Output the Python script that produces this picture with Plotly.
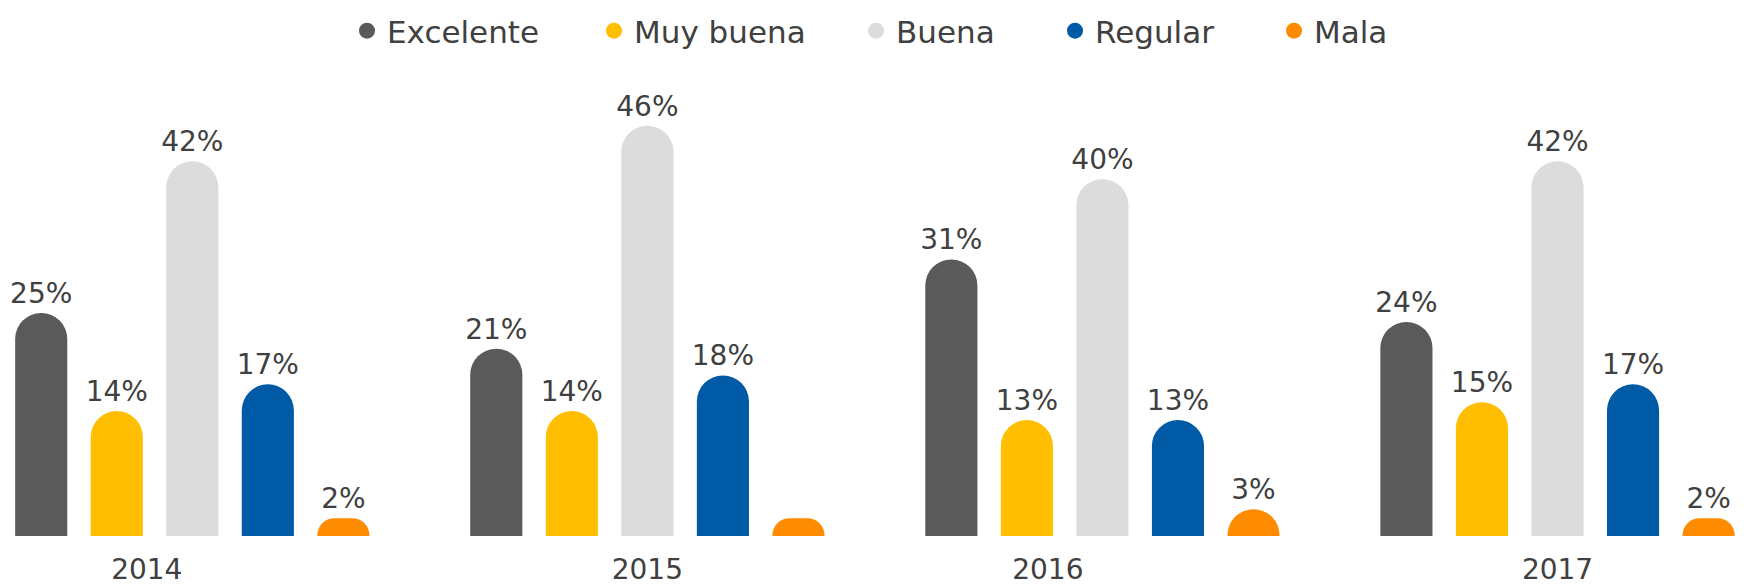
import plotly.graph_objects as go

years = ["2014", "2015", "2016", "2017"]
series = ["Excelente", "Muy buena", "Buena", "Regular", "Mala"]
excelente = [25, 21, 31, 24]
muy_buena = [14, 14, 13, 15]
buena = [42, 46, 40, 42]
regular = [17, 18, 13, 17]
mala = [2, 2, 3, 2]
# label shown for each bar (2015 "Mala" has no label in the original)
show_label = {
    "Excelente": [True, True, True, True],
    "Muy buena": [True, True, True, True],
    "Buena": [True, True, True, True],
    "Regular": [True, True, True, True],
    "Mala": [True, False, True, True],
}

values = [excelente, muy_buena, buena, regular, mala]
colors = ["#5a5a5a", "#ffbf00", "#dcdcdc", "#005aa5", "#ff8c00"]
text_color = "#404040"
font_family = "DejaVu Sans"

# horizontal placement of each legend entry (fraction of the figure width)
legend_x = [339 / 1752, 586 / 1752, 848 / 1752, 1047 / 1752, 1266 / 1752]
legend_ids = ["legend", "legend2", "legend3", "legend4", "legend5"]

xpos = list(range(len(years)))
fig = go.Figure()
for name, vals, col, lid in zip(series, values, colors, legend_ids):
    texts = [f"{v}%" if s else "" for v, s in zip(vals, show_label[name])]
    fig.add_trace(go.Bar(
        x=xpos, y=vals, name=name, showlegend=False,
        marker=dict(color=col, cornerradius="50%", line=dict(width=0)),
        text=texts, textposition="outside", constraintext="none",
        textfont=dict(family=font_family, size=28, color=text_color),
        cliponaxis=False, hoverinfo="skip",
    ))
    # legend entry with a round marker
    fig.add_trace(go.Scatter(
        x=[None], y=[None], mode="markers", name=name,
        marker=dict(color=col, size=20, symbol="circle"),
        showlegend=True, hoverinfo="skip", legend=lid,
    ))

legend_style = dict(
    orientation="h", xanchor="left", xref="paper",
    y=1 - 23 / 587, yanchor="middle", yref="container",
    font=dict(family=font_family, size=31, color=text_color),
    itemclick=False, bgcolor="rgba(0,0,0,0)",
)
legends = {lid: dict(x=lx, **legend_style) for lid, lx in zip(legend_ids, legend_x)}

label_shift = [-0.1, 0.0, -0.12, 0.0]
fig.update_layout(
    width=1752, height=587,
    paper_bgcolor="white", plot_bgcolor="white",
    margin=dict(l=0, r=0, t=82, b=59),
    barmode="group", bargap=0.17, bargroupgap=0.31,
    font=dict(family=font_family, color=text_color),
    xaxis=dict(
        type="linear", range=[-0.405, 3.445],
        tickmode="array",
        tickvals=[x + s for x, s in zip(xpos, label_shift)],
        ticktext=years,
        tickfont=dict(family=font_family, size=28, color=text_color),
        showgrid=False, zeroline=False, showline=False, ticks="",
        ticklabelstandoff=14, automargin=False,
    ),
    yaxis=dict(range=[0, 50], visible=False, showgrid=False, zeroline=False),
    **legends,
)

fig.write_html("out.html")
